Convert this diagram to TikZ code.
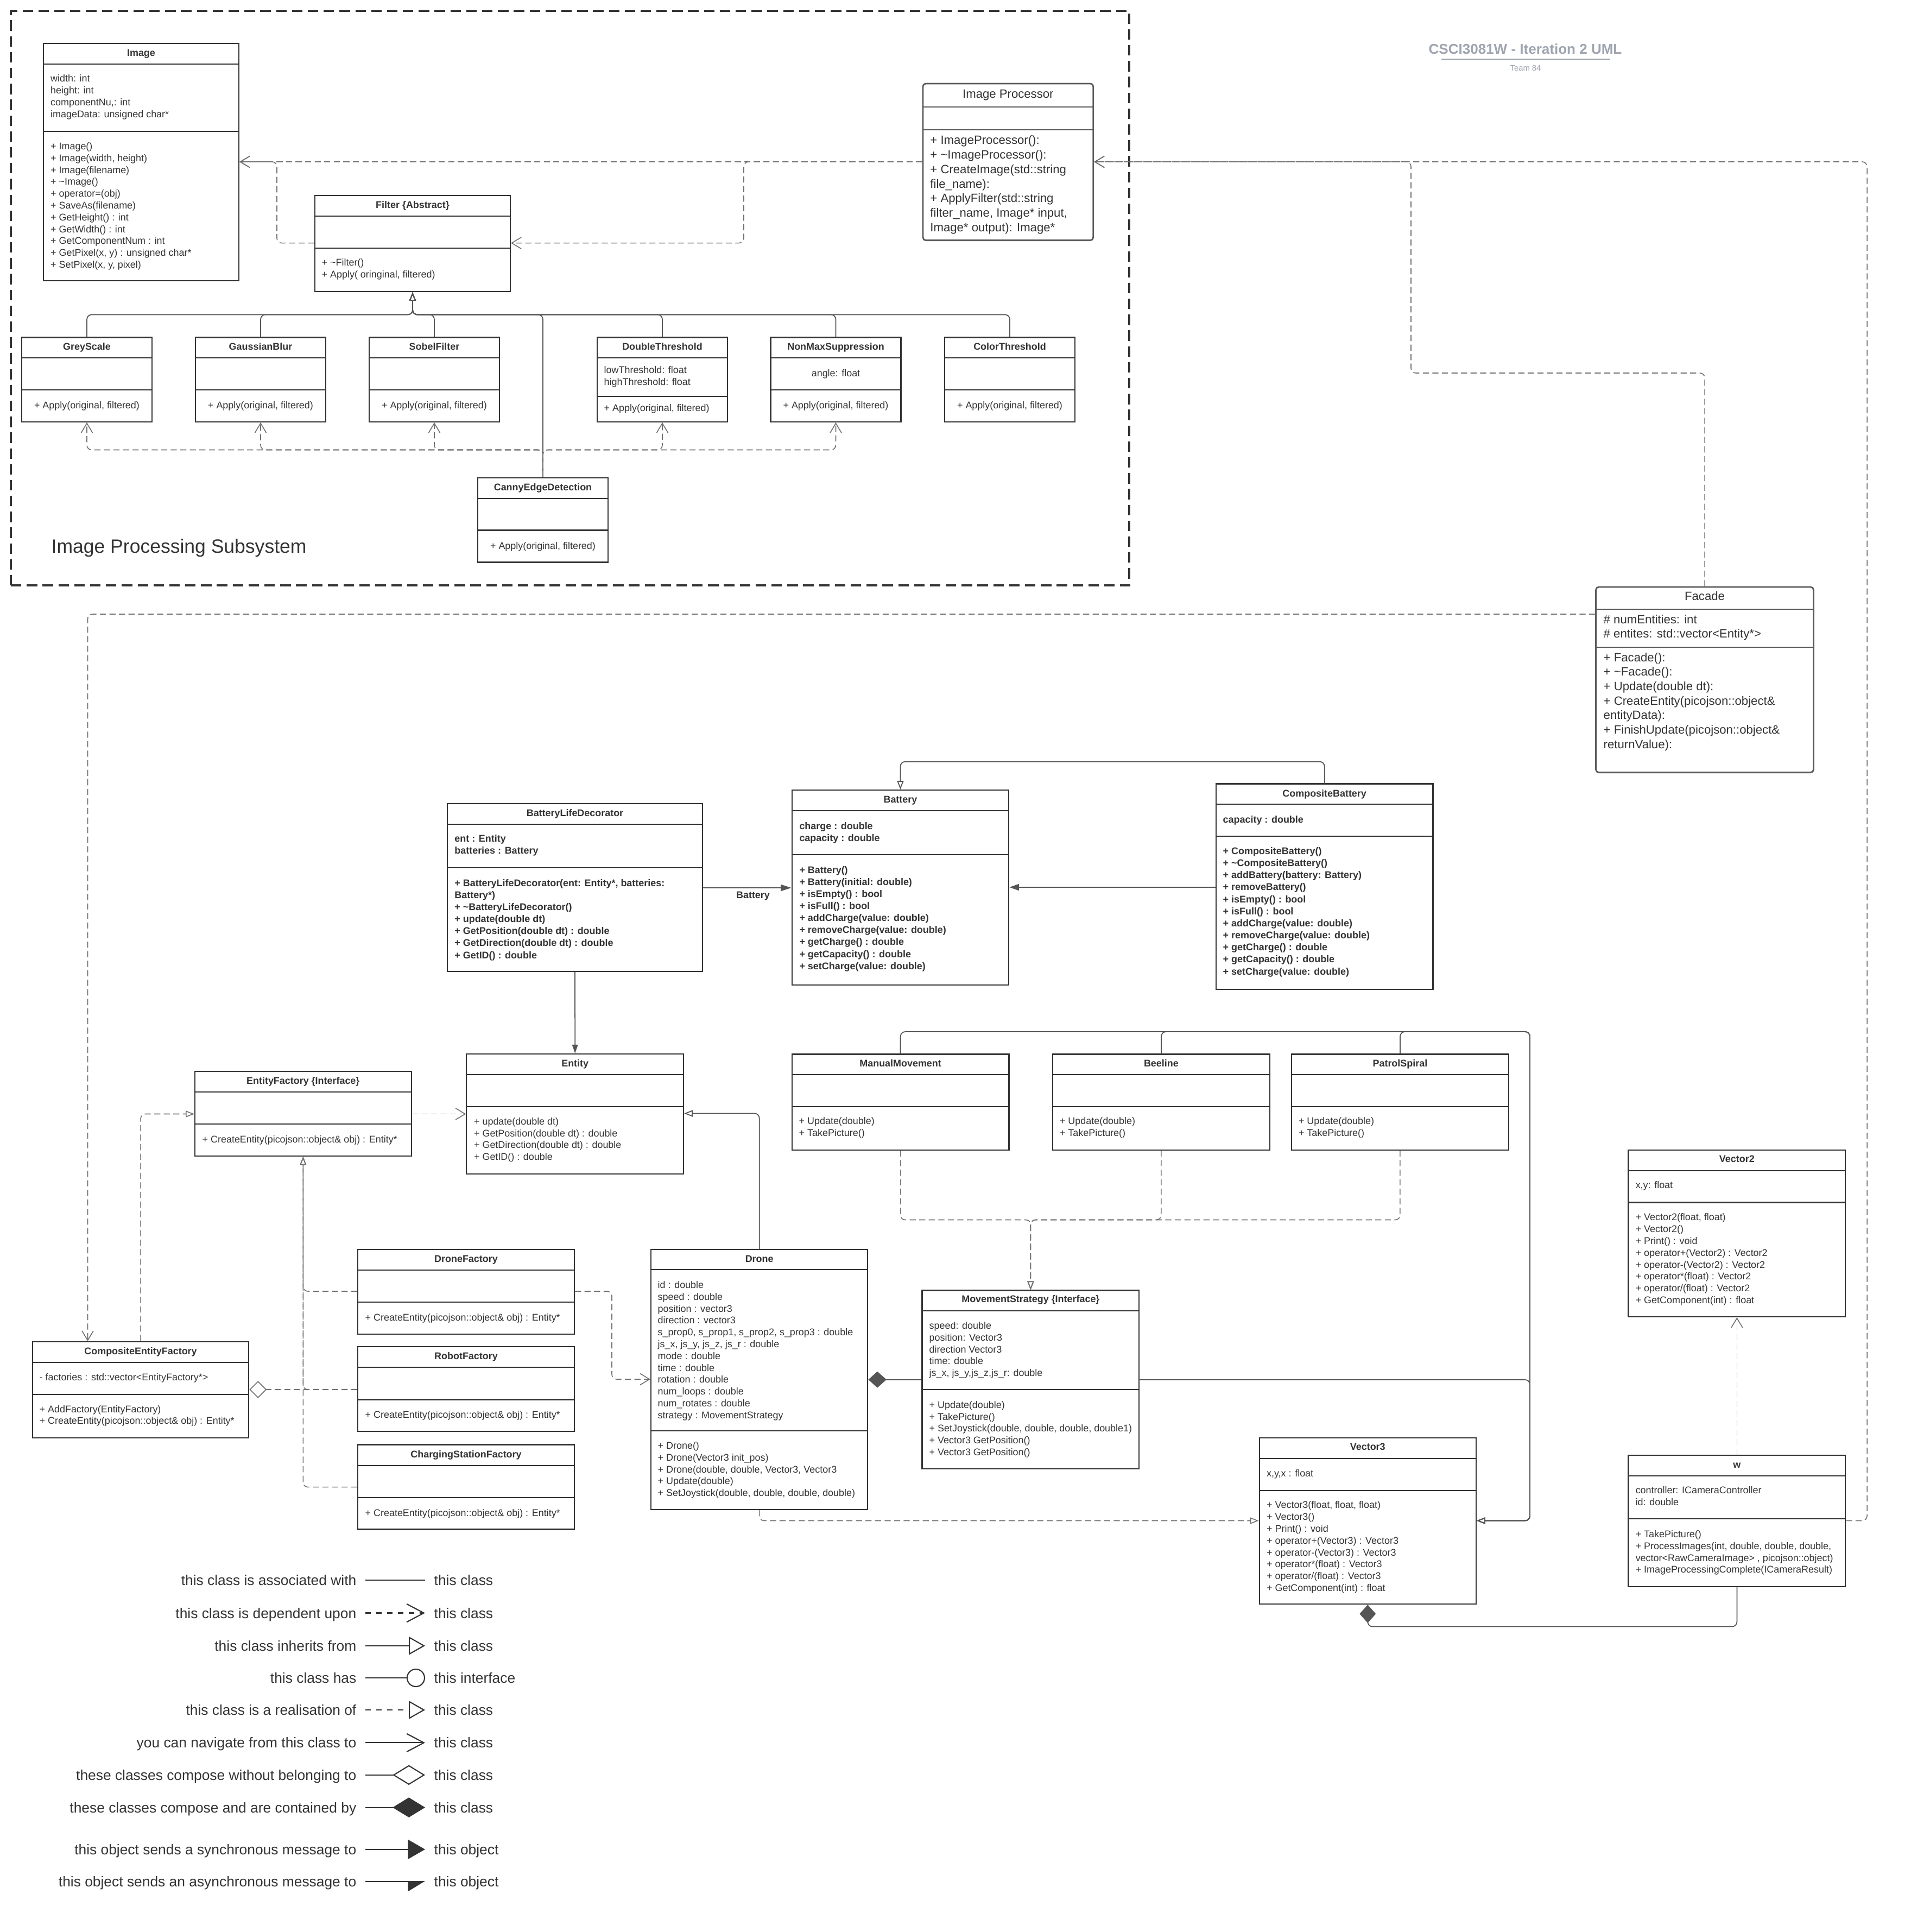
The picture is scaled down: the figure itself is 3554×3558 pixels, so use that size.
\documentclass[tikz,border=0pt]{standalone}
\usepackage{fontspec}
\setmainfont{Liberation Sans}
\usetikzlibrary{positioning}
\usetikzlibrary{calc}
\usetikzlibrary{arrows.meta}
\usetikzlibrary{fit}
\definecolor{ink}{RGB}{51,51,51}
\definecolor{wire}{RGB}{85,85,85}
\definecolor{dashwire}{RGB}{112,112,112}
\definecolor{boxgrey}{RGB}{90,90,90}
\definecolor{titlegrey}{RGB}{158,164,175}

\newcommand{\cfont}{\fontsize{5.1}{6.2}\selectfont}
\newcommand{\bfont}{\fontsize{5.1}{6.3}\selectfont\bfseries}
\newcommand{\mfont}{\fontsize{6.3}{7.6}\selectfont}

\tikzset{
  classbox/.style={draw=ink, line width=0.6pt, inner sep=0pt},
  ctitle/.style={font=\cfont\bfseries, text=ink, anchor=base, inner sep=0pt, yshift=-0.065cm},
  clines/.style={font=\cfont, text=ink, anchor=base west, inner sep=0pt, yshift=-0.065cm},
  blines/.style={clines, font=\bfont},
  mtitle/.style={font=\mfont, text=ink, anchor=base, inner sep=0pt, yshift=-0.08cm},
  mlines/.style={mtitle, anchor=base west},
  assoc/.style={draw=wire, line width=0.5pt, rounded corners=2.5pt},
  depend/.style={draw=dashwire, line width=0.45pt, dash pattern=on 3.2pt off 1.8pt, rounded corners=2.5pt, -{Straight Barb[length=5pt,width=6pt]}},
  inherit/.style={assoc, -{Triangle[open,length=4.5pt,width=3.4pt]}},
  realize/.style={inherit, draw=dashwire, line width=0.45pt, dash pattern=on 3.2pt off 1.8pt},
  aggreg/.style={draw=dashwire, line width=0.45pt, dash pattern=on 3.2pt off 1.8pt, -{Diamond[open,length=9pt,width=9pt]}},
  compose/.style={assoc, -{Diamond[length=9.5pt,width=8.5pt]}},
  subsys/.style={draw=ink, line width=0.9pt, dash pattern=on 5.5pt off 2.8pt, inner sep=0pt},
  legtext/.style={font=\fontsize{7.5}{9}\selectfont, text=ink, inner sep=0pt, text height=5.4pt, text depth=0pt},
  legline/.style={draw=ink, line width=0.6pt},
  legassoc/.style={legline},
  legdep/.style={legline, dash pattern=on 2.7pt off 3pt, -{Straight Barb[length=9pt,width=9.5pt]}},
  leginh/.style={legline, -{Triangle[open,length=8.5pt,width=9.5pt]}},
  leghas/.style={legline, -{Circle[open,length=9.7pt]}},
  legreal/.style={legline, dash pattern=on 2.7pt off 3pt, -{Triangle[open,length=8.5pt,width=9.5pt]}},
  legnav/.style={legline, -{Straight Barb[length=9pt,width=9.5pt]}},
  legagg/.style={legline, -{Diamond[open,length=17pt,width=10.4pt]}},
  legcomp/.style={legline, -{Diamond[length=17pt,width=10.4pt]}},
  legsync/.style={legline, -{Triangle[length=9pt,width=10.2pt]}},
  legasync/.style={legline, -{Triangle[harpoon,swap,length=8.5pt,width=10.2pt]}}
}

% class box: [style]{name}{top left}{bottom right}{first rule}{second rule}
\newcommand{\umlclass}[6][]{%
  \node[classbox, #1, fit={#3 #4}] (#2) {};
  \draw[classbox, #1] (#2.west |- 0,#5) -- (#2.east |- 0,#5)
                      (#2.west |- 0,#6) -- (#2.east |- 0,#6);
}
\newcommand{\utitle}[4][ctitle]{\node[#1] (#2-t) at (#2.north |- 0,#3) {#4};}
\newcommand{\ulines}[5][clines]{\node[#1] (#2) at (#3,#4) {\begin{tabular}[t]{@{}l@{}}#5\end{tabular}};}

\begin{document}
\begin{tikzpicture}[x=0.01cm, y=-0.01cm]
\useasboundingbox (0,0) rectangle (3554,3558);

% heading
\node[font=\fontsize{7.4}{9}\selectfont\bfseries, text=titlegrey, anchor=base, inner sep=0pt] (heading) at (2809.5,99.5) {CSCI3081W - Iteration 2 UML};
\draw[titlegrey, line width=0.6pt] (2655,109.4) -- (2965.5,109.4);
\node[font=\fontsize{4.2}{5}\selectfont, text=titlegrey, anchor=base, inner sep=0pt] (team) at (2810,131) {Team 84};

% image processing subsystem
\node[subsys, fit={(20,20) (2080,1078)}] (sub) {};
\node[font=\fontsize{10.1}{12}\selectfont, text=ink, anchor=base west, inner sep=0pt] (subname) at (94,1018) {Image Processing Subsystem};

\umlclass{img}{(80,80)}{(440,517)}{118}{242}
\utitle{img}{97}{Image}
\ulines{img-a}{92.5}{144.5}{width: int\\height: int\\componentNu,: int\\imageData: unsigned char*}
\ulines{img-o}{92.5}{269}{+ Image()\\+ Image(width, height)\\+ Image(filename)\\+ \textasciitilde Image()\\+ operator=(obj)\\+ SaveAs(filename)\\+ GetHeight() : int\\+ GetWidth() : int\\+ GetComponentNum : int\\+ GetPixel(x, y) : unsigned char*\\+ SetPixel(x, y, pixel)}

\umlclass{flt}{(580,360)}{(940,537)}{398}{457}
\utitle{flt}{377}{Filter \{Abstract\}}
\ulines{flt-o}{592}{483}{+ \textasciitilde Filter()\\+ Apply( oringinal, filtered)}

\foreach \n/\x/\t in {grey/40/GreyScale, gauss/360/GaussianBlur, sobel/680/SobelFilter, color/1740/ColorThreshold}{
  \umlclass{\n}{(\x,621.5)}{(\x+240,777)}{659}{718}
  \utitle{\n}{638.4}{\t}
  \node[clines, anchor=base] (\n-o) at (\n.north |- 0,746) {+ Apply(original, filtered)};
}

\umlclass{dbl}{(1100,621.5)}{(1340,777)}{659}{729.6}
\utitle{dbl}{638.4}{DoubleThreshold}
\ulines{dbl-a}{1112}{681}{lowThreshold: float\\highThreshold: float}
\ulines{dbl-o}{1112}{751}{+ Apply(original, filtered)}

\umlclass{nms}{(1419.5,621.5)}{(1659.5,777)}{659}{718}
\utitle{nms}{638.4}{NonMaxSuppression}
\node[clines, anchor=base] (nms-a) at (nms.north |- 0,687) {angle: float};
\node[clines, anchor=base] (nms-o) at (nms.north |- 0,746) {+ Apply(original, filtered)};

\umlclass{canny}{(880,880)}{(1120,1035.5)}{917.6}{976.5}
\utitle{canny}{896.5}{CannyEdgeDetection}
\node[clines, anchor=base] (canny-o) at (canny.north |- 0,1004.5) {+ Apply(original, filtered)};

\umlclass[draw=boxgrey, line width=0.8pt, rounded corners=1.5pt]{ip}{(1700,154)}{(2013.7,442.6)}{197}{239}
\utitle[mtitle]{ip}{173}{Image Processor}
\ulines[mlines]{ip-o}{1712.7}{258}{+ ImageProcessor():\\+ \textasciitilde ImageProcessor():\\+ CreateImage(std::string\\file\_name):\\+ ApplyFilter(std::string\\filter\_name, Image* input,\\Image* output): Image*}

% filter hierarchy
\foreach \c in {grey,gauss,sobel,dbl,nms,color,canny}
  \draw[inherit] (\c.north) |- (flt.south |- 0,579.5) -- (flt.south);
\foreach \c in {grey,gauss,sobel,dbl,nms}
  \draw[depend] (canny.north) |- (\c.south |- 0,828.5) -- (\c.south);
\draw[depend] (ip.west |- 0,298) -- (img.east |- 0,298);
\draw[depend] (ip.west |- 0,298) -| (1370,447.6) -- (flt.east |- 0,447.6);
\draw[depend] (flt.west |- 0,447.6) -| (510,298) -- (img.east |- 0,298);

% facade
\umlclass[draw=boxgrey, line width=0.8pt, rounded corners=1.5pt]{fac}{(2939.6,1081)}{(3340.4,1422.6)}{1122}{1192}
\utitle[mtitle]{fac}{1097}{Facade}
\ulines[mlines]{fac-a}{2953}{1140}{\# numEntities: int\\\# entites: std::vector<Entity*>}
\ulines[mlines]{fac-o}{2953}{1210}{+ Facade():\\+ \textasciitilde Facade():\\+ Update(double dt):\\+ CreateEntity(picojson::object\&\\entityData):\\+ FinishUpdate(picojson::object\&\\returnValue):}

% battery
\umlclass{bld}{(824,1480)}{(1294,1789)}{1518}{1598}
\utitle{bld}{1497}{BatteryLifeDecorator}
\ulines[blines]{bld-a}{836.7}{1544}{ent : Entity\\batteries : Battery}
\ulines[blines]{bld-o}{836.7}{1625.7}{+ BatteryLifeDecorator(ent: Entity*, batteries:\\Battery*)\\+ \textasciitilde BatteryLifeDecorator()\\+ update(double dt)\\+ GetPosition(double dt) : double\\+ GetDirection(double dt) : double\\+ GetID() : double}

\umlclass{bat}{(1458.6,1455)}{(1858.3,1813.8)}{1493}{1573.8}
\utitle{bat}{1472}{Battery}
\ulines[blines]{bat-a}{1471.8}{1521}{charge : double\\capacity : double}
\ulines[blines]{bat-o}{1471.8}{1601.5}{+ Battery()\\+ Battery(initial: double)\\+ isEmpty() : bool\\+ isFull() : bool\\+ addCharge(value: double)\\+ removeCharge(value: double)\\+ getCharge() : double\\+ getCapacity() : double\\+ setCharge(value: double)}

\umlclass{cbat}{(2239.8,1443.5)}{(2639.5,1822)}{1481.3}{1540}
\utitle{cbat}{1460.7}{CompositeBattery}
\ulines[blines]{cbat-a}{2252}{1508.5}{capacity : double}
\ulines[blines]{cbat-o}{2252}{1567}{+ CompositeBattery()\\+ \textasciitilde CompositeBattery()\\+ addBattery(battery: Battery)\\+ removeBattery()\\+ isEmpty() : bool\\+ isFull() : bool\\+ addCharge(value: double)\\+ removeCharge(value: double)\\+ getCharge() : double\\+ getCapacity() : double\\+ setCharge(value: double)}

% entities and factories
\umlclass{ent}{(859.4,1940.8)}{(1259,2162)}{1979}{2038}
\utitle{ent}{1958}{Entity}
\ulines{ent-o}{872.4}{2064.7}{+ update(double dt)\\+ GetPosition(double dt) : double\\+ GetDirection(double dt) : double\\+ GetID() : double}

\umlclass{ef}{(359,1973)}{(757.6,2129)}{2010.8}{2070}
\utitle{ef}{1990}{EntityFactory \{Interface\}}
\ulines{ef-o}{372}{2098}{+ CreateEntity(picojson::object\& obj) : Entity*}

\umlclass{cef}{(59.7,2471)}{(458.4,2648)}{2509}{2568}
\utitle{cef}{2487.8}{CompositeEntityFactory}
\ulines{cef-a}{72}{2536}{- factories : std::vector<EntityFactory*>}
\ulines{cef-o}{72}{2594.5}{+ AddFactory(EntityFactory)\\+ CreateEntity(picojson::object\& obj) : Entity*}

\foreach \n/\y/\t in {df/2300.6/DroneFactory, rf/2480/RobotFactory, csf/2660.5/ChargingStationFactory}{
  \umlclass{\n}{(659,\y)}{(1058,\y+156)}{\y+38.2}{\y+97.5}
  \utitle{\n}{\y+17.3}{\t}
  \ulines{\n-o}{672}{\y+125.2}{+ CreateEntity(picojson::object\& obj) : Entity*}
}

\umlclass{drone}{(1199,2301.4)}{(1598.3,2780)}{2338.3}{2635.2}
\utitle{drone}{2317.7}{Drone}
\ulines{drone-a}{1211}{2366}{id : double\\speed : double\\position : vector3\\direction : vector3\\s\_prop0, s\_prop1, s\_prop2, s\_prop3 : double\\js\_x, js\_y, js\_z, js\_r : double\\mode : double\\time : double\\rotation : double\\num\_loops : double\\num\_rotates : double\\strategy : MovementStrategy}
\ulines{drone-o}{1211}{2662}{+ Drone()\\+ Drone(Vector3 init\_pos)\\+ Drone(double, double, Vector3, Vector3\\+ Update(double)\\+ SetJoystick(double, double, double, double)}

\umlclass{ms}{(1698.5,2376.5)}{(2098.3,2704.9)}{2414}{2558.9}
\utitle{ms}{2392}{MovementStrategy \{Interface\}}
\ulines{ms-a}{1711}{2441}{speed: double\\position: Vector3\\direction Vector3\\time: double\\js\_x, js\_y,js\_z,js\_r: double}
\ulines{ms-o}{1711}{2586.8}{+ Update(double)\\+ TakePicture()\\+ SetJoystick(double, double, double, double1)\\+ Vector3 GetPosition()\\+ Vector3 GetPosition()}

\foreach \n/\x/\t in {mm/1458.7/ManualMovement, bee/1939/Beeline, pat/2379/PatrolSpiral}{
  \umlclass{\n}{(\x,1941.5)}{(\x+399.8,2117.8)}{1979}{2038.4}
  \utitle{\n}{1957.5}{\t}
  \ulines{\n-o}{\x+12.3}{2064}{+ Update(double)\\+ TakePicture()}
}

\umlclass{v3}{(2319.6,2648.2)}{(2718.9,2954.3)}{2685.7}{2744.6}
\utitle{v3}{2664}{Vector3}
\ulines{v3-a}{2332.4}{2712.5}{x,y,x : float}
\ulines{v3-o}{2332.4}{2771.4}{+ Vector3(float, float, float)\\+ Vector3()\\+ Print() : void\\+ operator+(Vector3) : Vector3\\+ operator-(Vector3) : Vector3\\+ operator*(float) : Vector3\\+ operator/(float) : Vector3\\+ GetComponent(int) : float}

\umlclass{v2}{(2999.5,2117.6)}{(3399.2,2425)}{2155.9}{2214.5}
\utitle{v2}{2133.5}{Vector2}
\ulines{v2-a}{3012}{2182}{x,y: float}
\ulines{v2-o}{3012}{2241.3}{+ Vector2(float, float)\\+ Vector2()\\+ Print() : void\\+ operator+(Vector2) : Vector2\\+ operator-(Vector2) : Vector2\\+ operator*(float) : Vector2\\+ operator/(float) : Vector2\\+ GetComponent(int) : float}

\umlclass{w}{(2999.5,2680)}{(3399.2,2921.8)}{2718.4}{2797.4}
\utitle{w}{2697.3}{w}
\ulines{w-a}{3012}{2744}{controller: ICameraController\\id: double}
\ulines{w-o}{3012}{2825}{+ TakePicture()\\+ ProcessImages(int, double, double, double,\\vector<RawCameraImage> , picojson::object)\\+ ImageProcessingComplete(ICameraResult)}

% connectors
\draw[depend] (fac.north) |- (2599,687) |- (ip.east |- 0,298);
\draw[depend] (w.east |- 0,2800.6) -| (3439,298) -- (ip.east |- 0,298);
\draw[depend] (fac.west |- 0,1131) -| (cef.north -| 161.5,0);

\draw[assoc, -{Triangle[length=5.5pt,width=3.4pt]}] (bld.east |- 0,1635) -- (bat.west |- 0,1635);
\node[ctitle] (bat-role) at (1387,1648) {Battery};
\draw[assoc, -{Triangle[length=5pt,width=3.4pt]}] (cbat.west |- 0,1634) -- (bat.east |- 0,1634);
\draw[inherit] (cbat.north) |- (bat.north |- 0,1402.7) -- (bat.north);
\draw[assoc, -{Triangle[length=4.5pt,width=3pt]}] (bld.south) -- (ent.north);

\draw[depend] (ef.east |- 0,2051.5) -- (ent.west |- 0,2051.5);
\draw[realize] (cef.north) |- (ef.west |- 0,2051.5);
\foreach \f/\y in {df/2378, rf/2559, csf/2738.6}
  \draw[realize] (\f.west |- 0,\y) -| (ef.south);
\draw[aggreg] (rf.west |- 0,2559) -- (cef.east |- 0,2559);
\draw[depend] (df.east |- 0,2378) -| (1127,2540) -- (drone.west |- 0,2540);
\draw[inherit] (drone.north) |- (ent.east |- 0,2050.5);
\draw[compose] (ms.west |- 0,2540.7) -- (drone.east |- 0,2540.7);
\foreach \m in {mm,bee,pat}{
  \draw[realize] (\m.south) |- (ms.north |- 0,2246.5) -- (ms.north);
  \draw[inherit] (\m.north) |- (2818,1900) |- (v3.east |- 0,2800.5);
}
\draw[inherit] (ms.east |- 0,2541) -| (2818,2800.5) -- (v3.east |- 0,2800.5);
\draw[realize] (drone.south) |- (v3.west |- 0,2800.5);
\draw[compose] (w.south) |- (v3.south |- 0,2995.5) -- (v3.south);
\draw[depend] (w.north) -- (v2.south);

% legend
\foreach \y/\l/\r/\s [count=\i] in {
  2910.3/this class is associated with/this class/legassoc,
  2970.5/this class is dependent upon/this class/legdep,
  3030.8/this class inherits from/this class/leginh,
  3090/this class has/this interface/leghas,
  3149/this class is a realisation of/this class/legreal,
  3209.4/you can navigate from this class to/this class/legnav,
  3268.8/these classes compose without belonging to/this class/legagg,
  3328.6/these classes compose and are contained by/this class/legcomp,
  3405.8/this object sends a synchronous message to/this object/legsync,
  3465.2/this object sends an asynchronous message to/this object/legasync}{
  \node[legtext, anchor=east] (lgl\i) at (657,\y) {\l};
  \node[legtext, anchor=west] (lgr\i) at (799,\y) {\r};
  \draw[\s] ([xshift=0.16cm]lgl\i.east) -- ([xshift=-0.16cm]lgr\i.west);
}
\end{tikzpicture}
\end{document}
